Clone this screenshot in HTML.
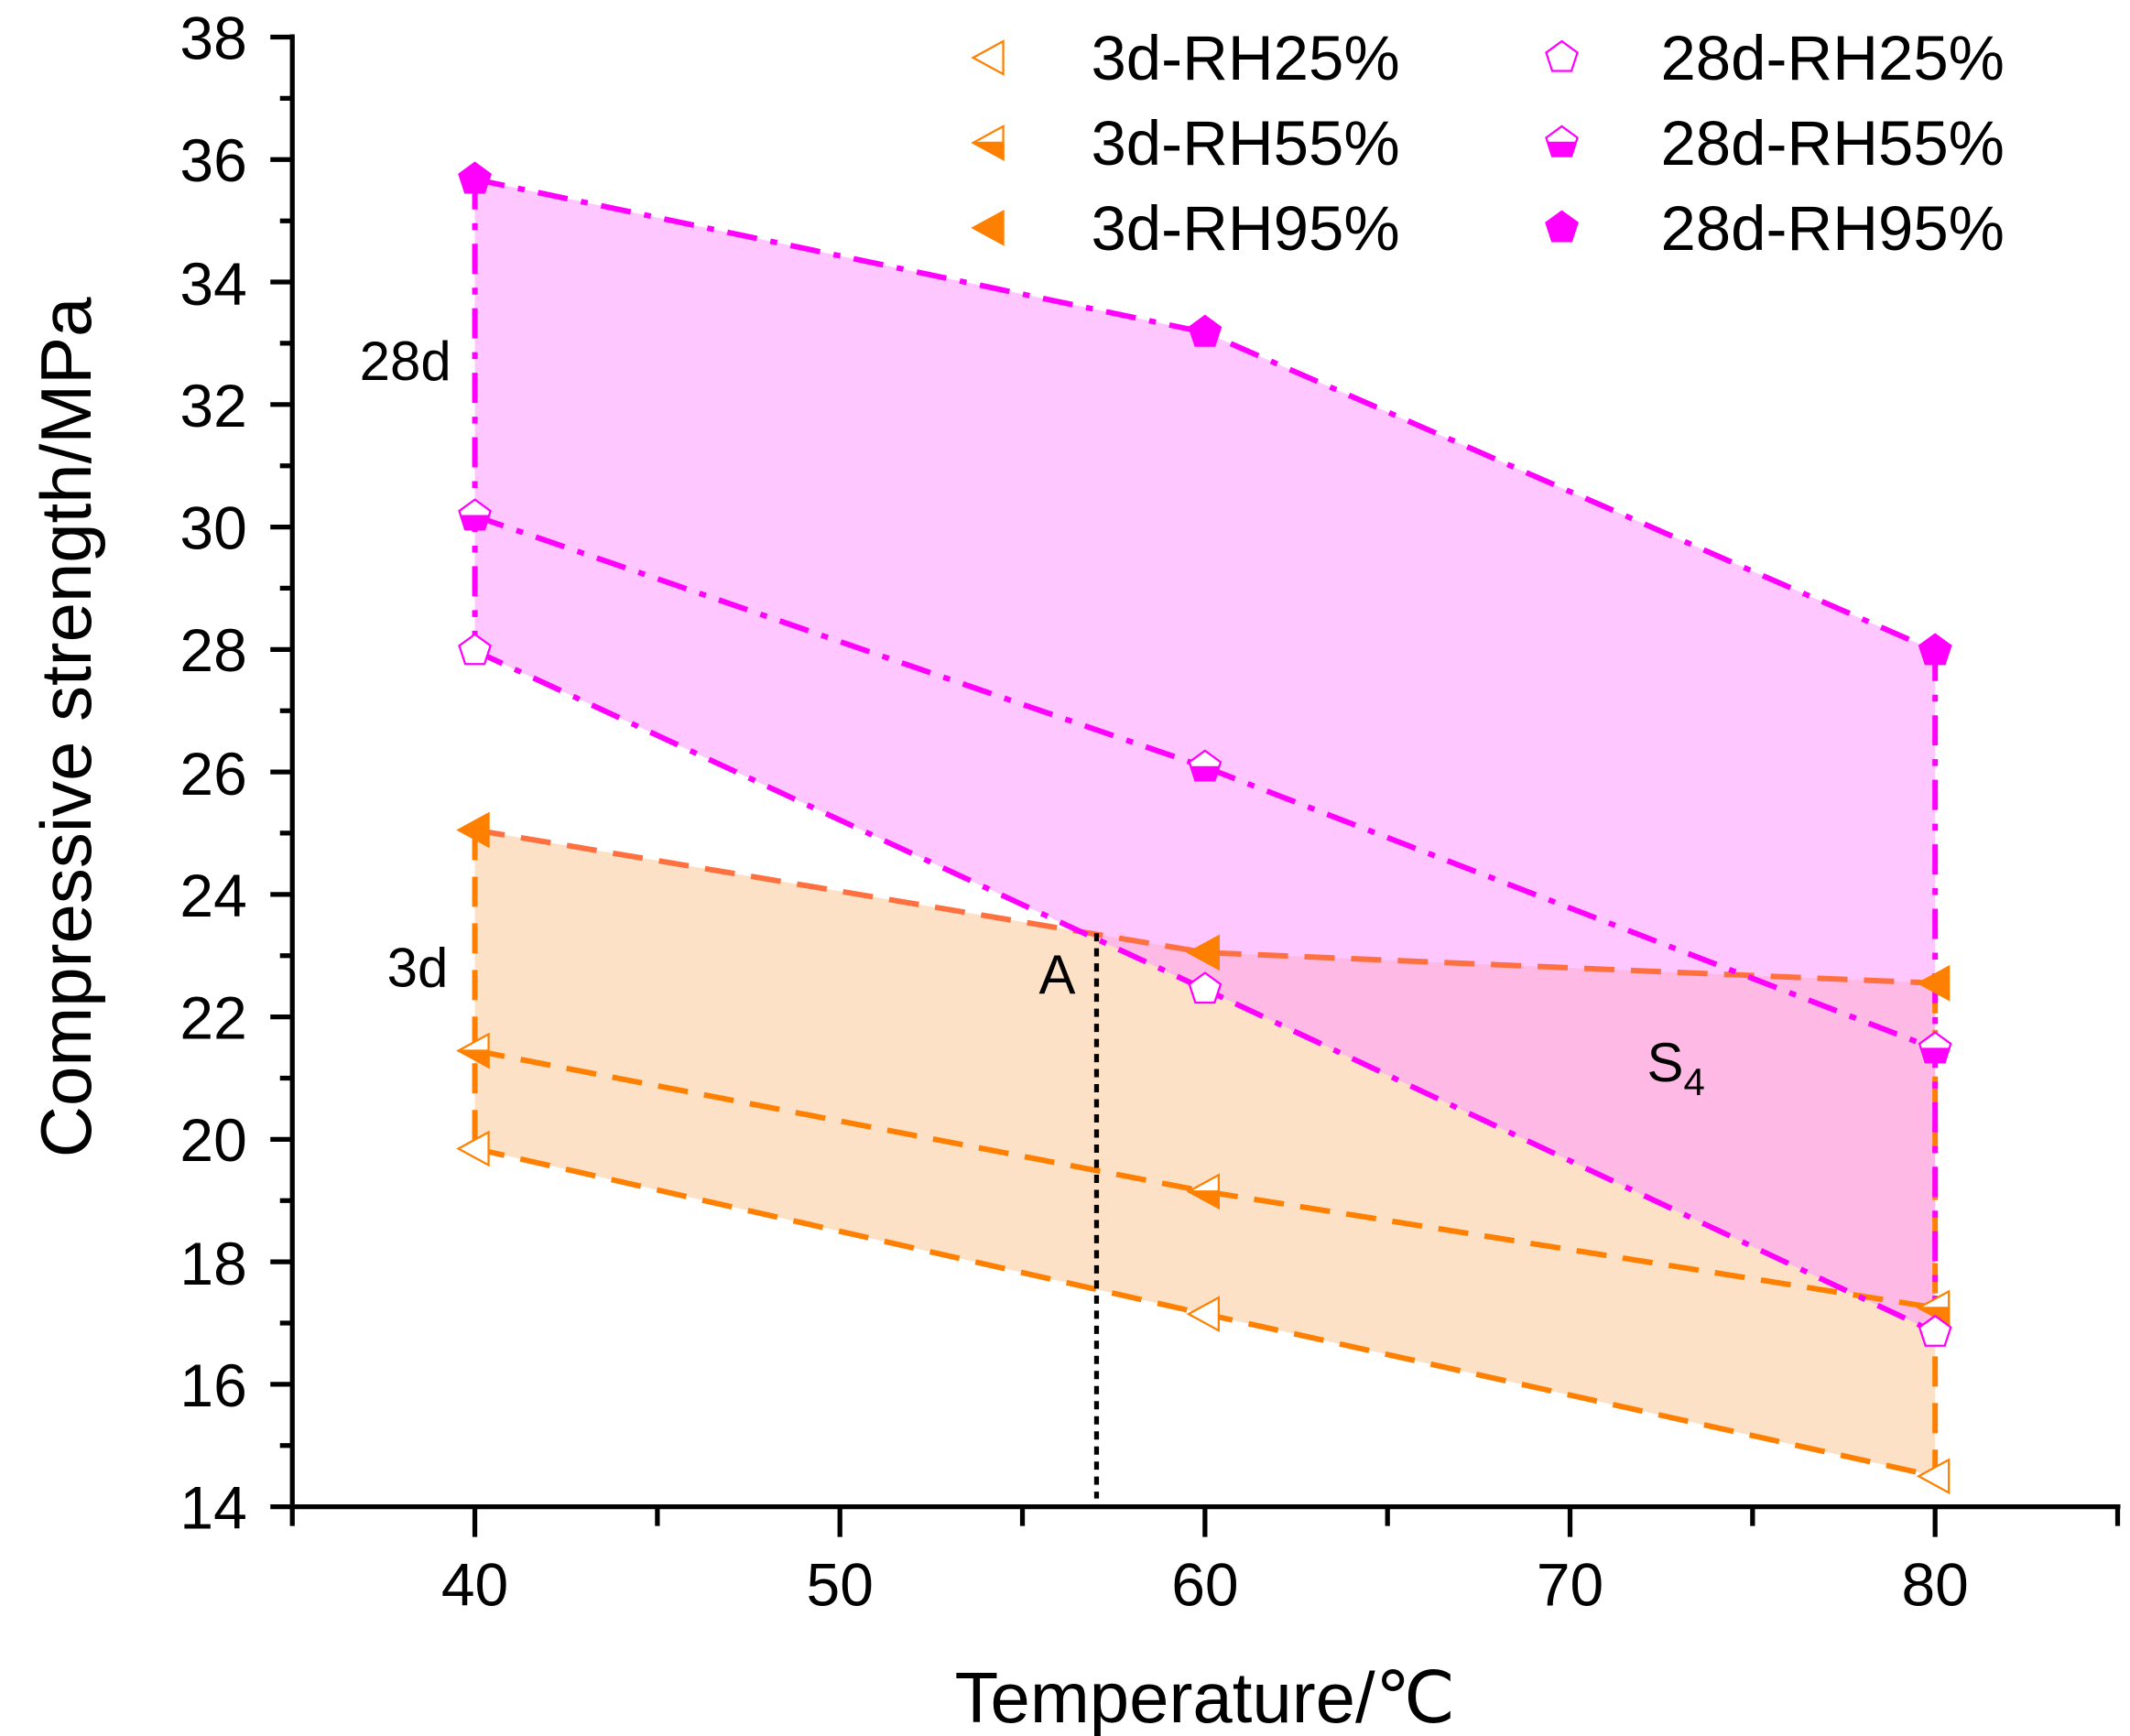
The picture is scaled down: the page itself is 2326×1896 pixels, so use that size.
<!DOCTYPE html>
<html><head><meta charset="utf-8"><style>html,body{margin:0;padding:0;background:#fff}svg{display:block}text{font-family:"Liberation Sans",Arial,sans-serif}</style></head>
<body>
<svg width="2326" height="1896" viewBox="0 0 1552 1265" xmlns="http://www.w3.org/2000/svg">
<defs>
<polygon id="pe" points="0,-12 11.4,-3.7 7,9.7 -7,9.7 -11.4,-3.7" fill="#fff" stroke="#ff00ff" stroke-width="1.5"/>
</defs>
<!-- fills -->
<polygon points="346,604.8 878,694.1 1410,716.4 1410,1075.7 878,957.5 346,837.0" fill="#fde1c6"/>
<polygon points="346,130.6 878,242.2 1410,474.2 1410,970.9 878,720.9 346,474.2" fill="#ff99ff" fill-opacity="0.55"/>
<!-- 3d lines -->
<g fill="none" stroke="#ff8000" stroke-width="4" stroke-dasharray="22,12">
<polyline points="346,837.0 878,957.5 1410,1075.7"/>
<polyline points="346,765.6 878,868.2 1410,953.0"/>
<polyline points="346,604.8 878,694.1 1410,716.4" stroke="#ff7040"/>
<line x1="346" y1="604.8" x2="346" y2="837"/>
<line x1="1410" y1="716.4" x2="1410" y2="1075.7"/>
</g>
<!-- 28d lines -->
<g fill="none" stroke="#ff00ff" stroke-width="4" stroke-dasharray="22,10,5,10">
<polyline points="346,474.2 878,720.9 1410,970.9"/>
<polyline points="346,376.0 878,559.0 1410,764.3"/>
<polyline points="346,130.6 878,242.2 1410,474.2"/>
<line x1="346" y1="130.6" x2="346" y2="474.2"/>
<line x1="1410" y1="474.2" x2="1410" y2="970.9"/>
</g>
<!-- dotted line -->
<line x1="799" y1="680" x2="799" y2="1092" stroke="#000" stroke-width="3.5" stroke-dasharray="6,5"/>
<!-- markers 3d -->
<g stroke="#ff8000" stroke-width="1.5">
<polygon points="334,837 356,825 356,849" fill="#fff"/>
<polygon points="866,957.5 888,945.5 888,969.5" fill="#fff"/>
<polygon points="1398,1075.7 1420,1063.7 1420,1087.7" fill="#fff"/>
<polygon points="334,765.6 356,753.6 356,777.6" fill="#fff"/>
<polygon points="334,765.6 356,765.6 356,777.6" fill="#ff8000"/>
<polygon points="866,868.2 888,856.2 888,880.2" fill="#fff"/>
<polygon points="866,868.2 888,868.2 888,880.2" fill="#ff8000"/>
<polygon points="1398,953 1420,941 1420,965" fill="#fff"/>
<polygon points="1398,953 1420,953 1420,965" fill="#ff8000"/>
<polygon points="334,604.8 356,592.8 356,616.8" fill="#ff8000"/>
<polygon points="866,694.1 888,682.1 888,706.1" fill="#ff8000"/>
<polygon points="1398,716.4 1420,704.4 1420,728.4" fill="#ff8000"/>
</g>
<!-- pentagon markers -->
<g stroke="#ff00ff" stroke-width="1.5">
<use href="#pe" x="346" y="474.2"/><use href="#pe" x="878" y="720.9"/><use href="#pe" x="1410" y="970.9"/>
<polygon transform="translate(346,376)" points="0,-12 11.4,-3.7 7,9.7 -7,9.7 -11.4,-3.7" fill="#fff"/>
<polygon transform="translate(346,376)" points="-10,0 10,0 7,9.7 -7,9.7" fill="#ff00ff"/>
<polygon transform="translate(878,559)" points="0,-12 11.4,-3.7 7,9.7 -7,9.7 -11.4,-3.7" fill="#fff"/>
<polygon transform="translate(878,559)" points="-10,0 10,0 7,9.7 -7,9.7" fill="#ff00ff"/>
<polygon transform="translate(1410,764.3)" points="0,-12 11.4,-3.7 7,9.7 -7,9.7 -11.4,-3.7" fill="#fff"/>
<polygon transform="translate(1410,764.3)" points="-10,0 10,0 7,9.7 -7,9.7" fill="#ff00ff"/>
<polygon transform="translate(346,130.6)" points="0,-12 11.4,-3.7 7,9.7 -7,9.7 -11.4,-3.7" fill="#ff00ff"/>
<polygon transform="translate(878,242.2)" points="0,-12 11.4,-3.7 7,9.7 -7,9.7 -11.4,-3.7" fill="#ff00ff"/>
<polygon transform="translate(1410,474.2)" points="0,-12 11.4,-3.7 7,9.7 -7,9.7 -11.4,-3.7" fill="#ff00ff"/>
</g>
<!-- axes -->
<g stroke="#000" stroke-width="3.5" fill="none">
<line x1="213" y1="25" x2="213" y2="1100"/>
<line x1="211" y1="1098" x2="1545" y2="1098"/>
<path d="M346,1098v22M612,1098v22M878,1098v22M1144,1098v22M1410,1098v22M213,1098v14M479,1098v14M745,1098v14M1011,1098v14M1277,1098v14M1543,1098v14"/>
<path d="M213,1098h-16M213,1008.75h-16M213,919.5h-16M213,830.25h-16M213,741h-16M213,651.75h-16M213,562.5h-16M213,473.25h-16M213,384h-16M213,294.75h-16M213,205.5h-16M213,116.25h-16M213,27h-16"/>
<path d="M213,1053.4h-9M213,964.1h-9M213,874.9h-9M213,785.6h-9M213,696.4h-9M213,607.1h-9M213,517.9h-9M213,428.6h-9M213,339.4h-9M213,250.1h-9M213,160.9h-9M213,71.6h-9"/>
</g>
<g font-size="44" text-anchor="end" fill="#000">
<text x="180" y="1114">14</text><text x="180" y="1025">16</text><text x="180" y="936">18</text><text x="180" y="846">20</text><text x="180" y="757">22</text><text x="180" y="668">24</text><text x="180" y="579">26</text><text x="180" y="489">28</text><text x="180" y="400">30</text><text x="180" y="311">32</text><text x="180" y="222">34</text><text x="180" y="132">36</text><text x="180" y="43">38</text>
</g>
<g font-size="44" text-anchor="middle" fill="#000">
<text x="346" y="1170">40</text><text x="612" y="1170">50</text><text x="878" y="1170">60</text><text x="1144" y="1170">70</text><text x="1410" y="1170">80</text>
</g>
<text x="878" y="1255" font-size="52" text-anchor="middle">Temperature/℃</text>
<text transform="translate(66,530) rotate(-90)" font-size="52" text-anchor="middle">Compressive strength/MPa</text>
<g font-size="40">
<text x="262" y="277">28d</text><text x="282" y="719">3d</text><text x="757" y="724">A</text>
<text x="1200" y="788">S<tspan font-size="28" dy="10">4</tspan></text>
</g>
<!-- legend -->
<g stroke="#ff8000" stroke-width="1.5">
<polygon points="709,42 731,30 731,54" fill="#fff"/>
<polygon points="709,104 731,92 731,116" fill="#fff"/><polygon points="709,104 731,104 731,116" fill="#ff8000"/>
<polygon points="709,166 731,154 731,178" fill="#ff8000"/>
</g>
<g stroke="#ff00ff" stroke-width="1.5">
<polygon transform="translate(1138,42)" points="0,-12 11.4,-3.7 7,9.7 -7,9.7 -11.4,-3.7" fill="#fff"/>
<polygon transform="translate(1138,104)" points="0,-12 11.4,-3.7 7,9.7 -7,9.7 -11.4,-3.7" fill="#fff"/>
<polygon transform="translate(1138,104)" points="-10,0 10,0 7,9.7 -7,9.7" fill="#ff00ff"/>
<polygon transform="translate(1138,166)" points="0,-12 11.4,-3.7 7,9.7 -7,9.7 -11.4,-3.7" fill="#ff00ff"/>
</g>
<g font-size="46">
<text x="795" y="58">3d-RH25%</text><text x="795" y="120">3d-RH55%</text><text x="795" y="182">3d-RH95%</text>
<text x="1210" y="58">28d-RH25%</text><text x="1210" y="120">28d-RH55%</text><text x="1210" y="182">28d-RH95%</text>
</g>
</svg>
</body></html>
